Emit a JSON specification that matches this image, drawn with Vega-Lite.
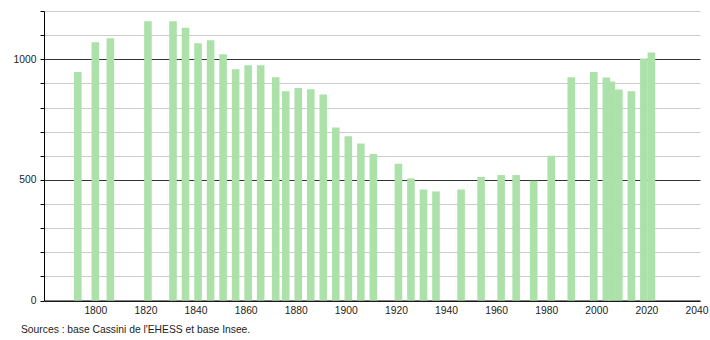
{
  "$schema": "https://vega.github.io/schema/vega-lite/v6.json",
  "width": 656,
  "height": 289.5,
  "autosize": "none",
  "padding": {"left": 44, "top": 11, "right": 10, "bottom": 39.5},
  "background": "white",
  "config": {"view": {"stroke": null}, "font": "Liberation Sans"},
  "title": {
    "text": "Sources : base Cassini de l'EHESS et base Insee.",
    "orient": "bottom",
    "anchor": "start",
    "frame": "group",
    "fontSize": 10.3,
    "fontWeight": "normal",
    "color": "#222222",
    "dx": -23,
    "offset": 9
  },
  "data": {
    "values": [
      {"year": 1793, "pop": 947},
      {"year": 1800, "pop": 1070},
      {"year": 1806, "pop": 1087},
      {"year": 1821, "pop": 1157},
      {"year": 1831, "pop": 1157},
      {"year": 1836, "pop": 1131},
      {"year": 1841, "pop": 1066},
      {"year": 1846, "pop": 1079},
      {"year": 1851, "pop": 1021},
      {"year": 1856, "pop": 959},
      {"year": 1861, "pop": 975},
      {"year": 1866, "pop": 975},
      {"year": 1872, "pop": 925},
      {"year": 1876, "pop": 867},
      {"year": 1881, "pop": 881},
      {"year": 1886, "pop": 876},
      {"year": 1891, "pop": 854},
      {"year": 1896, "pop": 717},
      {"year": 1901, "pop": 681},
      {"year": 1906, "pop": 651},
      {"year": 1911, "pop": 607},
      {"year": 1921, "pop": 567},
      {"year": 1926, "pop": 506},
      {"year": 1931, "pop": 460},
      {"year": 1936, "pop": 452},
      {"year": 1946, "pop": 460},
      {"year": 1954, "pop": 512},
      {"year": 1962, "pop": 520},
      {"year": 1968, "pop": 520},
      {"year": 1975, "pop": 496},
      {"year": 1982, "pop": 600},
      {"year": 1990, "pop": 925},
      {"year": 1999, "pop": 947},
      {"year": 2004, "pop": 924},
      {"year": 2006, "pop": 908},
      {"year": 2009, "pop": 875},
      {"year": 2014, "pop": 867},
      {"year": 2019, "pop": 1003},
      {"year": 2022, "pop": 1028}
    ]
  },
  "mark": {"type": "bar", "width": 7.6, "color": "#ace1a9"},
  "encoding": {
    "x": {
      "field": "year",
      "type": "quantitative",
      "scale": {"domain": [1779.5, 2041.4], "nice": false, "zero": false, "padding": 0},
      "axis": {
        "title": null,
        "values": [1800, 1820, 1840, 1860, 1880, 1900, 1920, 1940, 1960, 1980, 2000, 2020, 2040],
        "format": "d",
        "ticks": false,
        "grid": false,
        "domainColor": "#000000",
        "labelPadding": 5,
        "labelFontSize": 10.3,
        "labelColor": "#222222",
        "labelFlush": false,
        "labelOverlap": false
      }
    },
    "y": {
      "field": "pop",
      "type": "quantitative",
      "scale": {"domain": [0, 1200], "nice": false},
      "axis": {
        "title": null,
        "values": [0, 100, 200, 300, 400, 500, 600, 700, 800, 900, 1000, 1100, 1200],
        "format": "d",
        "labelExpr": "datum.value % 500 === 0 ? datum.label : ''",
        "grid": true,
        "gridColor": {"condition": {"test": "datum.value % 500 === 0", "value": "#333333"}, "value": "#cccccc"},
        "tickSize": 4,
        "tickColor": "#000000",
        "domainColor": "#000000",
        "labelPadding": 4,
        "labelFontSize": 10.3,
        "labelColor": "#222222",
        "labelFlush": false,
        "labelOverlap": false
      }
    }
  }
}
